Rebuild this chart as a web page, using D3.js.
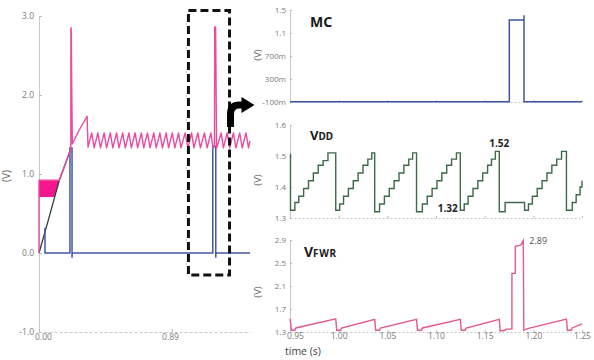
<!DOCTYPE html>
<html><head><meta charset="utf-8">
<script src="https://cdn.jsdelivr.net/npm/d3@7"></script>
<style>
body{margin:0;background:#fff}
svg{display:block}
text{font-family:"Open Sans","Noto Sans",sans-serif}
</style>
</head><body>
<svg id="c" width="594" height="360"></svg>
<script>
// ---------------- DATA ----------------
// Left overview panel (time in s, volts)
const leftTicksY = [-1, 0, 1, 2, 3];
const leftTickLabelsY = ["-1.0", "0.0", "1.0", "2.0", "3.0"];
const leftTicksX = [0, 0.89];
const leftTickLabelsX = ["0.00", "0.89"];

const leftPinkBand = [[0, 0.71], [0.105, 0.71], [0.136, 0.92], [0, 0.92]];
const leftPink = [
  [0,0],[0,0.92],[0.136,0.92],[0.175,1.12],[0.213,1.32],[0.2135,2.84],[0.2155,2.85],[0.223,1.38],[0.27,1.56],[0.322,1.73],[0.328,1.34],
  [0.353,1.52],[0.369,1.33],[0.394,1.52],[0.411,1.33],[0.436,1.52],[0.452,1.33],[0.477,1.52],[0.494,1.33],[0.519,1.52],
  [0.535,1.33],[0.560,1.52],[0.577,1.33],[0.602,1.52],[0.618,1.33],[0.643,1.52],[0.660,1.33],[0.685,1.52],[0.701,1.33],
  [0.726,1.52],[0.743,1.33],[0.768,1.52],[0.784,1.33],[0.809,1.52],[0.826,1.33],[0.851,1.52],[0.867,1.33],[0.892,1.52],
  [0.909,1.33],[0.934,1.52],[0.950,1.33],[0.978,1.52],[0.997,1.33],[1.021,1.52],[1.037,1.33],[1.063,1.52],[1.080,1.33],
  [1.107,1.52],[1.125,1.33],[1.150,1.52],[1.165,1.33],[1.174,1.35],[1.176,2.86],[1.182,2.86],[1.188,1.35],[1.190,1.33],
  [1.219,1.52],[1.234,1.33],[1.259,1.52],[1.276,1.33],[1.301,1.52],[1.318,1.33],[1.343,1.52],[1.360,1.33],[1.385,1.52],
  [1.402,1.33],[1.412,1.42]
];
const leftBlue = [
  [0.04,0.32],[0.04,0],[0.207,0],[0.207,1.33],[0.221,1.33],[0.221,-0.06],[0.222,0],
  [1.163,0],[1.163,1.35],[1.183,1.35],[1.183,-0.06],[1.184,0],[1.412,0]
];
const leftVdd = [[0,0],[0.06,0.4],[0.118,0.8],[0.136,0.92],[0.175,1.12],[0.213,1.32]];
const zoomBox = {t0: 1.0, t1: 1.275, vTop: 3.07, vBottom: -0.28};

// Right zoomed panels
const rightTicksX = [0.95, 1.00, 1.05, 1.10, 1.15, 1.20, 1.25];
const mcTicks = [-0.1, 0.3, 0.7, 1.1, 1.5];
const mcTickLabels = ["-100m", "300m", "700m", "1.1", "1.5"];
const vddTicks = [1.3, 1.4, 1.5, 1.6];
const vddTickLabels = ["1.3", "1.4", "1.5", "1.6"];
const fwrTicks = [1.3, 1.7, 2.1, 2.5, 2.9];
const fwrTickLabels = ["1.3", "1.7", "2.1", "2.5", "2.9"];

const mcSeries = [
  [0.95,-0.095],[1.1753,-0.095],[1.1753,1.326],[1.1904,1.326],[1.1904,1.41],[1.1904,-0.095],[1.25,-0.095]
];
// VDD staircase (step-after points)
const vddSeries = [
  [0.950,1.505],[0.9505,1.325],[0.955,1.35],[0.959,1.37],[0.964,1.395],[0.969,1.42],[0.974,1.445],[0.979,1.47],[0.984,1.485],[0.989,1.51],
  [0.997,1.325],[1.001,1.345],[1.005,1.37],[1.010,1.395],[1.015,1.42],[1.020,1.445],[1.025,1.47],[1.030,1.49],[1.034,1.51],
  [1.037,1.32],[1.042,1.345],[1.047,1.37],[1.052,1.395],[1.057,1.42],[1.062,1.445],[1.067,1.47],[1.072,1.49],[1.076,1.51],
  [1.080,1.32],[1.086,1.345],[1.091,1.37],[1.096,1.395],[1.101,1.42],[1.106,1.445],[1.111,1.47],[1.116,1.49],[1.121,1.51],
  [1.125,1.325],[1.129,1.345],[1.133,1.37],[1.138,1.395],[1.143,1.42],[1.148,1.445],[1.153,1.47],[1.157,1.49],[1.161,1.515],
  [1.165,1.32],[1.171,1.35],[1.191,1.325],[1.195,1.345],[1.199,1.37],[1.204,1.395],[1.209,1.42],[1.214,1.445],[1.219,1.47],[1.224,1.49],[1.229,1.515],
  [1.234,1.325],[1.240,1.35],[1.244,1.375],[1.248,1.40],[1.250,1.42]
];
const fwrSeries = [
  [0.950,1.53],[0.9515,1.33],[0.955,1.33],[0.956,1.37],[0.997,1.53],
  [0.998,1.33],[1.002,1.33],[1.003,1.37],[1.037,1.52],
  [1.038,1.33],[1.042,1.33],[1.043,1.37],[1.080,1.52],
  [1.081,1.33],[1.085,1.33],[1.086,1.37],[1.125,1.52],
  [1.126,1.33],[1.130,1.33],[1.131,1.37],[1.165,1.52],
  [1.166,1.32],[1.171,1.33],[1.172,1.35],[1.178,1.35],[1.178,2.32],[1.1815,2.32],[1.1815,2.79],[1.187,2.81],[1.1897,2.89],[1.1902,1.33],
  [1.194,1.36],[1.234,1.525],[1.235,1.33],[1.239,1.33],[1.240,1.37],[1.250,1.44]
];
const vddNotes = [{t: 1.165, v: 1.52, label: "1.52", dy: -3}, {t: 1.112, v: 1.32, label: "1.32", dy: 0}];
const fwrNote = {t: 1.1897, v: 2.89, label: "2.89"};

// ---------------- DRAWING ----------------
const svg = d3.select("#c");
svg.append("rect").attr("width",594).attr("height",360).attr("fill","#fff");

const gray = "#c8c8c8", tickText = "#7a7a7a";
function styleAxis(g, dash) {
  g.select(".domain").attr("stroke", gray).attr("stroke-width", 1).attr("stroke-dasharray", dash || null);
  g.selectAll(".tick line").attr("stroke", "#bbb");
  g.selectAll(".tick text").attr("fill", tickText).style("font-size", "8.5px")
    .style("font-family", "'Open Sans','Noto Sans',sans-serif");
}

// ---- Left panel ----
const xL = d3.scaleLinear().domain([0, 1.412]).range([39, 250]);
const yL = d3.scaleLinear().domain([-1, 3]).range([332, 16]);

const gL = svg.append("g");
gL.append("g").attr("transform","translate(39,0)")
  .call(d3.axisLeft(yL).tickValues(leftTicksY).tickFormat((d,i)=>leftTickLabelsY[i]).tickSize(-3).tickSizeOuter(0).tickPadding(5))
  .call(g=>styleAxis(g));
gL.append("g").attr("transform","translate(0,332)")
  .call(d3.axisBottom(xL).tickValues(leftTicksX).tickFormat((d,i)=>leftTickLabelsX[i]).tickSize(-3).tickSizeOuter(0).tickPadding(2))
  .call(g=>styleAxis(g,"3,2"))
  .call(g=>g.selectAll(".tick text").attr("dx",(d,i)=>i===0?4:-2));
gL.append("text").attr("transform","translate(10,176) rotate(-90)").attr("text-anchor","middle")
  .attr("fill","#666").style("font-size","10px").text("(V)");

const lineL = d3.line().x(d=>xL(d[0])).y(d=>yL(d[1]));
gL.append("path").datum(leftPinkBand).attr("d", lineL.curve(d3.curveLinearClosed)).attr("fill","#f5178e").attr("stroke","none");
lineL.curve(d3.curveLinear);
gL.append("path").datum(leftVdd).attr("d", lineL).attr("fill","none").attr("stroke","#2c3f30").attr("stroke-width",1.3);
gL.append("path").datum(leftBlue).attr("d", lineL).attr("fill","none").attr("stroke","#4457a6").attr("stroke-width",1.5);
gL.append("path").datum(leftPink).attr("d", lineL).attr("fill","none").attr("stroke","#ea4a9f").attr("stroke-width",1.4).attr("stroke-linejoin","round");

// zoom box
gL.append("rect")
  .attr("x", xL(zoomBox.t0)).attr("y", yL(zoomBox.vTop))
  .attr("width", xL(zoomBox.t1)-xL(zoomBox.t0)).attr("height", yL(zoomBox.vBottom)-yL(zoomBox.vTop))
  .attr("fill","none").attr("stroke","#111").attr("stroke-width",3).attr("stroke-dasharray","8,4");
// curved arrow
const ax = xL(zoomBox.t1)+1, ay = 127;
gL.append("path").attr("d",`M${ax},${ay} L${ax},${ay-13} Q${ax},${ay-22} ${ax+9},${ay-22} L${ax+12},${ay-22}`)
  .attr("fill","none").attr("stroke","#000").attr("stroke-width",7);
gL.append("path").attr("d",`M${ax+11},${ay-30} L${ax+24},${ay-22} L${ax+11},${ay-14} Z`).attr("fill","#000");

// ---- Right panels ----
const xR = d3.scaleLinear().domain([0.95, 1.25]).range([290, 582]);
const panels = [
  {y: d3.scaleLinear().domain([-0.1,1.5]).range([102,10]), ticks: mcTicks, labels: mcTickLabels, vy: 55, bottom: 102},
  {y: d3.scaleLinear().domain([1.3,1.6]).range([218,125]), ticks: vddTicks, labels: vddTickLabels, vy: 180, bottom: 218},
  {y: d3.scaleLinear().domain([1.3,2.9]).range([332,240]), ticks: fwrTicks, labels: fwrTickLabels, vy: 292, bottom: 332}
];
panels.forEach((p, k) => {
  const g = svg.append("g");
  g.append("g").attr("transform",`translate(0,${p.bottom})`)
    .call(d3.axisBottom(xR).tickValues(rightTicksX).tickFormat(k===2 ? d3.format(".2f") : "").tickSize(-2).tickSizeOuter(0).tickPadding(1))
    .call(a=>styleAxis(a,"2,2"))
    .call(a=>a.selectAll(".tick text").attr("dx",(d,i)=>i===0?5:0));
  g.append("g").attr("transform","translate(290,0)")
    .call(d3.axisLeft(p.y).tickValues(p.ticks).tickFormat((d,i)=>p.labels[i]).tickSize(-2).tickSizeOuter(0).tickPadding(4))
    .call(a=>styleAxis(a))
    .call(a=>a.selectAll(".tick text").style("font-size","8px"));
  g.append("text").attr("transform",`translate(261,${p.vy}) rotate(-90)`).attr("text-anchor","middle")
    .attr("fill","#666").style("font-size","9.5px").text("(V)");
  p.g = g;
});

const lMC = d3.line().x(d=>xR(d[0])).y(d=>panels[0].y(d[1]));
panels[0].g.append("path").datum(mcSeries).attr("d", lMC).attr("fill","none").attr("stroke","#3d54a6").attr("stroke-width",1.5);
const lV = d3.line().x(d=>xR(d[0])).y(d=>panels[1].y(d[1])).curve(d3.curveStepAfter);
panels[1].g.append("path").datum(vddSeries).attr("d", lV).attr("fill","none").attr("stroke","#3c6a47").attr("stroke-width",1.4);
const lF = d3.line().x(d=>xR(d[0])).y(d=>panels[2].y(d[1]));
panels[2].g.append("path").datum(fwrSeries).attr("d", lF).attr("fill","none").attr("stroke","#e3578f").attr("stroke-width",1.4);

// titles
const tf = "'Noto Sans','Open Sans',sans-serif";
svg.append("text").attr("x",310).attr("y",27).attr("fill","#1a1a1a").style("font-family",tf)
  .style("font-weight","bold").style("font-size","14px").text("MC");
const tV = svg.append("text").attr("x",310).attr("y",140).attr("fill","#1a1a1a").style("font-family",tf).style("font-weight","bold");
tV.append("tspan").style("font-size","13px").text("V");
tV.append("tspan").style("font-size","10px").text("DD");
const tF = svg.append("text").attr("x",304).attr("y",257).attr("fill","#1a1a1a").style("font-family",tf).style("font-weight","bold");
tF.append("tspan").style("font-size","14px").text("V");
tF.append("tspan").style("font-size","10px").attr("letter-spacing","0.6px").text("FWR");

// value notes
vddNotes.forEach(n => {
  svg.append("text").attr("x", xR(n.t)-10).attr("y", panels[1].y(n.v) + n.dy).attr("fill","#222")
    .style("font-weight","bold").style("font-size","10px").text(n.label);
});
svg.append("text").attr("x", xR(fwrNote.t)+6).attr("y", panels[2].y(fwrNote.v)+3).attr("fill","#555")
  .style("font-size","9px").text(fwrNote.label);

svg.append("text").attr("x",285).attr("y",355).attr("fill","#444").style("font-size","10.5px").text("time (s)");
</script>
</body></html>
